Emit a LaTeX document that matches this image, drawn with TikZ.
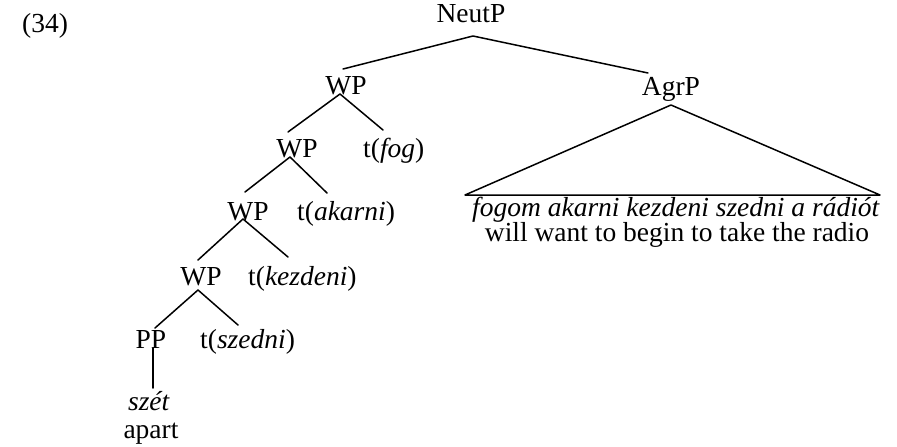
\documentclass[tikz,border=0pt]{standalone}
\usepackage{fontspec}
\setmainfont{Liberation Serif}
\usetikzlibrary{calc}
\begin{document}
\begin{tikzpicture}[x=1pt,y=-1pt,
  lab/.style={inner sep=0pt,anchor=base,font=\fontsize{27.5}{33}\selectfont},
  labw/.style={lab,anchor=base west},
  branch/.style={line width=1.5pt,line cap=round,line join=round}]
\useasboundingbox (0,0) rectangle (897,447);

% example number
\node[labw] (ex) at (22,32) {(34)};

% labels of the tree
\node[lab] (neut) at (471,22) {NeutP};
\node[lab] (agr) at (671,95) {AgrP};
\node[lab] (wp1) at (346,94) {WP};
\node[lab] (wp2) at (297,157) {WP};
\node[labw] (tfog) at (363,157) {t(\textit{fog})};
\node[lab] (wp3) at (248,220) {WP};
\node[labw] (takarni) at (297,220) {t(\textit{akarni})};
\node[lab] (wp4) at (201,285) {WP};
\node[labw] (tkezdeni) at (248,285) {t(\textit{kezdeni})};
\node[lab] (pp) at (151,348) {PP};
\node[labw] (tszedni) at (200,348) {t(\textit{szedni})};
\node[lab] (szet) at (149,410) {\textit{szét}};
\node[lab] (apart) at (151,438) {apart};
\node[lab] (fogom) at (676,216) {\textit{fogom akarni kezdeni szedni a rádiót}};
\node[lab] (will) at (677,241) {will want to begin to take the radio};

% branches
\draw[branch] ($(wp1.base)+(-3,-25)$) -- ($(neut.base)+(2,14)$) -- ($(agr.base)+(-23,-22)$);
\draw[branch] ($(wp2.base)+(-9,-25)$) -- ($(wp1.base)+(-6,0)$) -- ($(tfog.base west)+(20,-27)$);
\draw[branch] ($(wp3.base)+(-3,-28)$) -- ($(wp2.base)+(-7,0)$) -- ($(takarni.base west)+(30,-27)$);
\draw[branch] ($(wp4.base)+(-3,-25)$) -- ($(wp3.base)+(-5,-1)$) -- ($(tkezdeni.base west)+(40,-28)$);
\draw[branch] ($(pp.base)+(4,-20)$) -- ($(wp4.base)+(-3,5)$) -- ($(tszedni.base west)+(38,-23)$);
\draw[branch] ($(pp.base)+(2,0)$) -- ($(szet.base)+(4,-22)$);

% roof over the AgrP string
\draw[branch] ($(agr.base)+(0,10)$) -- ($(fogom.base)+(-211,-21)$)
  -- ($(fogom.base)+(204,-21)$) -- cycle;
\end{tikzpicture}
\end{document}
